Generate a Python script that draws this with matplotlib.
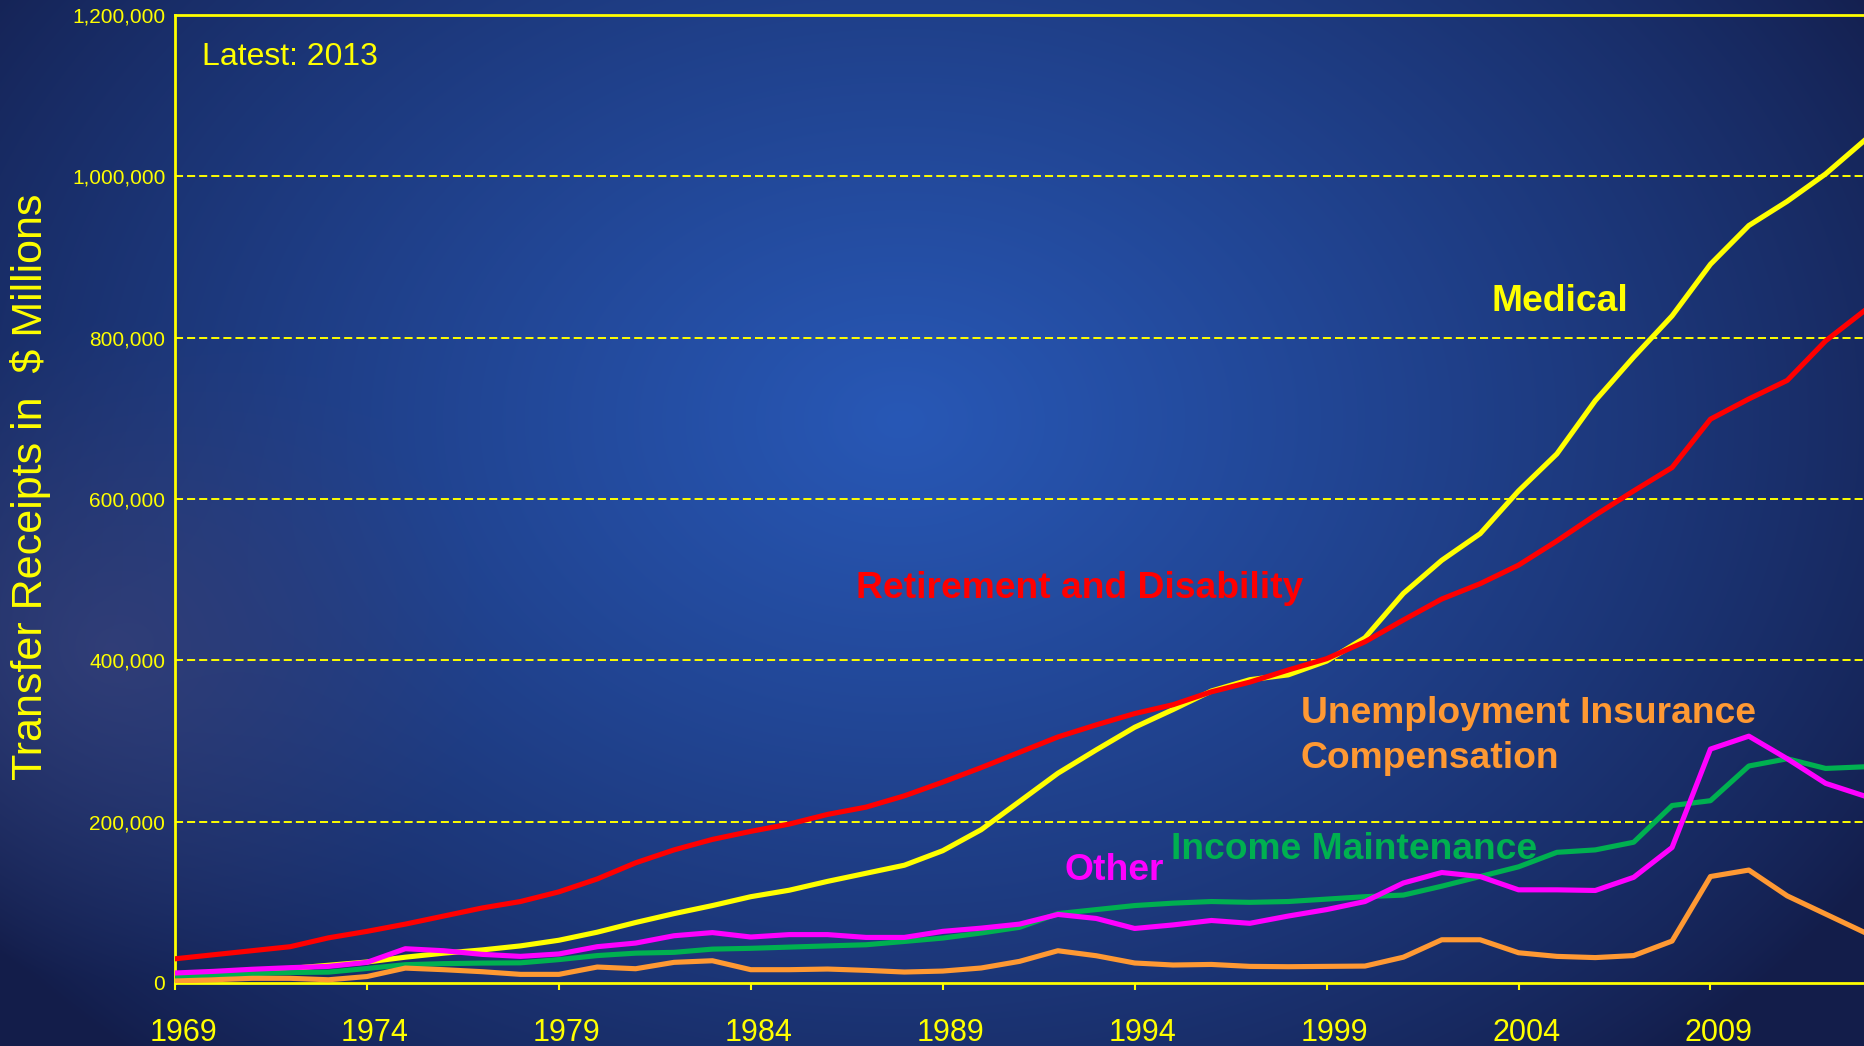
import numpy as np
import matplotlib
matplotlib.use("Agg")
import matplotlib.pyplot as plt
import matplotlib.transforms as mtransforms
from matplotlib.ticker import FuncFormatter

plt.rcParams['font.family'] = ['Liberation Sans', 'DejaVu Sans']
plt.rcParams['lines.scale_dashes'] = False

# ---------------- data (millions of dollars) ----------------
years = list(range(1969, 2014))

medical = [11, 13, 15, 18, 22, 26, 32, 37, 41, 46, 53, 63, 75, 86, 96,
           107, 115, 126, 136, 146, 164, 190, 225, 260, 289, 317, 339, 362,
           376, 382, 399, 428, 483, 524, 557, 610, 656, 722, 776, 827, 891,
           939, 969, 1003, 1044]

retirement = [30, 35, 40, 45, 56, 64, 73, 83, 93, 101, 113, 129, 149, 165,
              178, 188, 197, 209, 218, 232, 249, 267, 286, 305, 320, 334,
              345, 361, 373, 388, 402, 423, 450, 476, 495, 518, 548, 580,
              610, 639, 699, 724, 747, 796, 833]

income_maint = [8, 10, 11.5, 13, 13.5, 18, 22.7, 24, 24.7, 25, 29, 34, 37,
                38, 42, 43, 44.5, 46, 47.4, 51.5, 55.7, 62, 69, 86, 91, 96,
                99, 101, 100, 101, 104, 107, 109, 120, 132, 144, 162, 165,
                174.5, 220, 226, 269, 278, 266, 268]

other = [12.4, 14.4, 17, 19, 20.6, 25.6, 42.5, 40, 35.5, 33, 36, 45, 49.5,
         58.6, 62.5, 57, 60, 60, 56.5, 56.5, 64, 68, 73, 85, 80, 67.6, 72,
         77.5, 74, 83, 91, 101, 124, 137, 132, 115.5, 115.5, 114.7, 131,
         168, 290, 306, 278, 247.5, 232]

unemployment = [2.5, 4, 5.8, 5.8, 4, 8, 18.5, 16.5, 14, 10.7, 10.7, 19.8,
                17.7, 25.6, 27.6, 16.5, 16.5, 17.3, 15.7, 13.6, 14.8, 18.6,
                26.8, 40, 33.8, 24.8, 22.3, 23, 20.6, 20.2, 20.6, 21, 32,
                53.6, 53.6, 37.5, 33, 31.5, 34, 52, 132, 140, 108, 85.5, 63]

scale = 1000  # values above in thousands of $ millions
xticks = [1969, 1974, 1979, 1984, 1989, 1994, 1999, 2004, 2009]
yticks = [0, 200000, 400000, 600000, 800000, 1000000, 1200000]

# ---------------- figure ----------------
W, H = 1864, 1046
fig = plt.figure(figsize=(W / 100, H / 100), dpi=100)

# background radial gradient
yy, xx = np.mgrid[0:H, 0:W].astype(float)
d = np.sqrt(((xx - 900) / 1150) ** 2 + ((yy - 420) / 850) ** 2)
w = np.clip(1 - d, 0, 1) ** 0.8
edge = np.array([19, 29, 74]) / 255
center = np.array([40, 88, 182]) / 255
img = edge[None, None, :] + (center - edge)[None, None, :] * w[..., None]
r2 = np.sqrt(((xx - 110) / 380) ** 2 + ((yy - 650) / 330) ** 2)
w2 = 0.75 * np.clip(1 - r2, 0, 1) ** 1.1
grey = np.array([56, 66, 122]) / 255
img = img * (1 - w2[..., None]) + grey[None, None, :] * w2[..., None]
bg = fig.add_axes([0, 0, 1, 1], zorder=-10)
bg.imshow(img, aspect='auto', extent=[0, 1, 0, 1], origin='upper')
bg.axis('off')

left = 175 / W
bottom = (H - 983) / H
top = (H - 15) / H
ax = fig.add_axes([left, bottom, 1 - left, top - bottom])
ax.set_facecolor('none')

YEL = '#FFFF00'
lw = 3.7
yr = np.array(years)
ax.plot(yr, np.array(medical) * scale, color='#FFFF00', lw=lw, zorder=3, solid_joinstyle='round')
ax.plot(yr, np.array(income_maint) * scale, color='#00B050', lw=lw, zorder=4, solid_joinstyle='round')
ax.plot(yr, np.array(unemployment) * scale, color='#FF9933', lw=lw, zorder=4, solid_joinstyle='round')
ax.plot(yr, np.array(retirement) * scale, color='#FF0000', lw=lw, zorder=5, solid_joinstyle='round')
ax.plot(yr, np.array(other) * scale, color='#FF00FF', lw=lw, zorder=6, solid_joinstyle='round')

ax.set_xlim(1969, 2013)
ax.set_ylim(0, 1200000)

for v in yticks[1:-1]:
    ax.axhline(v, color=YEL, lw=1.4, dashes=(5.8, 2.9), zorder=2)

for s in ['left', 'bottom', 'top']:
    ax.spines[s].set_color(YEL)
    ax.spines[s].set_linewidth(2.0)
ax.spines['right'].set_visible(False)

ax.set_xticks(xticks)
ax.set_yticks(yticks)
ax.yaxis.set_major_formatter(FuncFormatter(lambda v, p: f"{int(v):,}"))
ax.tick_params(axis='x', colors=YEL, length=5, width=1.5, direction='out',
               labelsize=22, pad=20)
ax.tick_params(axis='y', colors=YEL, length=0, labelsize=15, pad=7)
offset = mtransforms.ScaledTranslation(8 / 100, 0, fig.dpi_scale_trans)
for lab in ax.get_xticklabels():
    lab.set_transform(lab.get_transform() + offset)


def fx(px):
    return px / W


def fy(py):
    return 1 - py / H


fig.text(fx(202), fy(65), 'Latest: 2013', color=YEL, fontsize=23, va='baseline', ha='left')
fig.text(fx(31), fy(487), 'Transfer Receipts in  $ Millions', color=YEL, fontsize=31,
         rotation=90, ha='center', va='center')

bold = dict(fontsize=26.8, fontweight='bold', va='baseline', ha='left')
fig.text(fx(1492), fy(311), 'Medical', color='#FFFF00', **bold)
fig.text(fx(856), fy(598), 'Retirement and Disability', color='#FF0000', **bold)
fig.text(fx(1301), fy(723), 'Unemployment Insurance', color='#FF9933', **bold)
fig.text(fx(1301), fy(768), 'Compensation', color='#FF9933', **bold)
fig.text(fx(1171), fy(859), 'Income Maintenance', color='#00B050', **bold)
fig.text(fx(1064), fy(880), 'Other', color='#FF00FF', **bold)

fig.savefig('out.png', dpi=100)
